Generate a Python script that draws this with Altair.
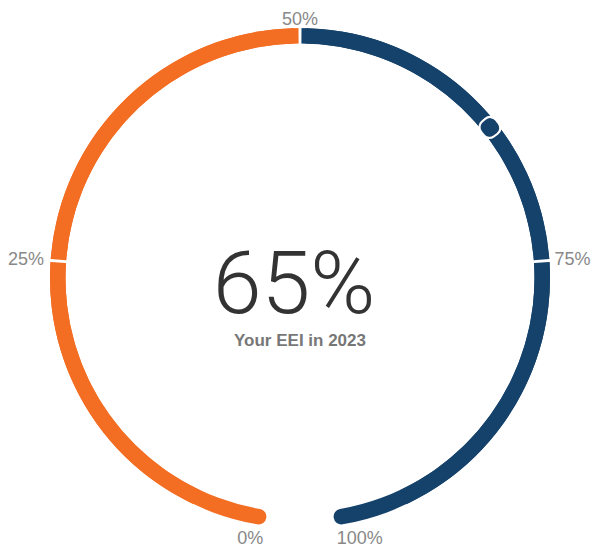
import altair as alt
import pandas as pd
import math

# ---- data ----
seg_start = [0, 50]
seg_end = [50, 100]
seg_group = ["low", "high"]
cover_start = [5, 50]
cover_end = [50, 95]
tick_values = [0, 25, 50, 75, 100]
tick_labels = ["0%", "25%", "50%", "75%", "100%"]
score = 65
score_label = "65%"
caption = "Your EEI in 2023"

ORANGE = "#F36D22"
NAVY = "#15426B"
LABEL_GRAY = "#888888"

W, H = 583, 540
CX, CY = 292, 270
R_OUT, R_IN = 250, 234.5
R_MID = (R_OUT + R_IN) / 2

theta_scale = alt.Scale(domain=[0, 100], range=[math.radians(188), math.radians(532)])
color_scale = alt.Scale(domain=["low", "high"], range=[ORANGE, NAVY])

seg_df = pd.DataFrame({"start": seg_start, "end": seg_end, "group": seg_group})
cover_df = pd.DataFrame({"start": cover_start, "end": cover_end, "group": seg_group})
tick_df = pd.DataFrame({"value": tick_values, "label": tick_labels})
score_df = pd.DataFrame({"value": [score]})

center = dict(x=alt.value(CX), y=alt.value(CY))

rounded = alt.Chart(seg_df).mark_arc(radius=R_OUT, radius2=R_IN, cornerRadius=7.7).encode(
    theta=alt.Theta("start:Q", scale=theta_scale, stack=None),
    theta2="end:Q",
    color=alt.Color("group:N", scale=color_scale, legend=None),
    **center,
)
square = alt.Chart(cover_df).mark_arc(radius=R_OUT, radius2=R_IN).encode(
    theta=alt.Theta("start:Q", scale=theta_scale, stack=None),
    theta2="end:Q",
    color=alt.Color("group:N", scale=color_scale, legend=None),
    **center,
)
separators = alt.Chart(tick_df).transform_filter(
    "datum.value > 0 && datum.value < 100"
).transform_calculate(
    lo="datum.value - 0.1", hi="datum.value + 0.1"
).mark_arc(radius=R_OUT + 3, radius2=R_IN - 3, fill="white").encode(
    theta=alt.Theta("lo:Q", scale=theta_scale, stack=None),
    theta2="hi:Q",
    **center,
)
# white halo, then navy dot on top
marker_halo = alt.Chart(score_df).transform_calculate(
    lo="datum.value - 0.73", hi="datum.value + 0.73"
).mark_arc(radius=R_MID + 10.5, radius2=R_MID - 10.5, cornerRadius=8, fill="white").encode(
    theta=alt.Theta("lo:Q", scale=theta_scale, stack=None),
    theta2="hi:Q",
    **center,
)
marker = alt.Chart(score_df).transform_calculate(
    lo="datum.value - 0.59", hi="datum.value + 0.59"
).mark_arc(radius=R_MID + 8.5, radius2=R_MID - 8.5, cornerRadius=6.5, fill=NAVY).encode(
    theta=alt.Theta("lo:Q", scale=theta_scale, stack=None),
    theta2="hi:Q",
    **center,
)


def label_layer(vals, radius, align, dy=0):
    return alt.Chart(tick_df).transform_filter(
        alt.FieldOneOfPredicate(field="value", oneOf=vals)
    ).mark_text(
        align=align, baseline="middle", fontSize=18, font="Liberation Sans",
        color=LABEL_GRAY, dy=dy,
    ).encode(
        theta=alt.Theta("value:Q", scale=theta_scale, stack=None),
        radius=alt.value(radius),
        text="label:N",
        **center,
    )


labels = [
    label_layer([0], 263.5, "right"),
    label_layer([100], 263.5, "left"),
    label_layer([25], 256.5, "right"),
    label_layer([75], 255, "left"),
    label_layer([50], 258, "center"),
]

big = alt.Chart(score_df).mark_text(
    text=score_label, fontSize=88, font="Roboto", fontWeight=300,
    color="#333333", align="center", baseline="alphabetic",
).encode(x=alt.value(CX - 6), y=alt.value(305))

sub = alt.Chart(score_df).mark_text(
    text=caption, fontSize=17, font="Liberation Sans", fontWeight="bold",
    color="#777777", align="center", baseline="alphabetic",
).encode(x=alt.value(CX), y=alt.value(338))

chart = alt.layer(rounded, square, separators, marker_halo, marker, *labels, big, sub).properties(
    width=W, height=H, padding=0, autosize=alt.AutoSizeParams(type="none")
).configure_view(stroke=None)

chart.save("out.html", embed_options={"renderer": "svg", "actions": False})
